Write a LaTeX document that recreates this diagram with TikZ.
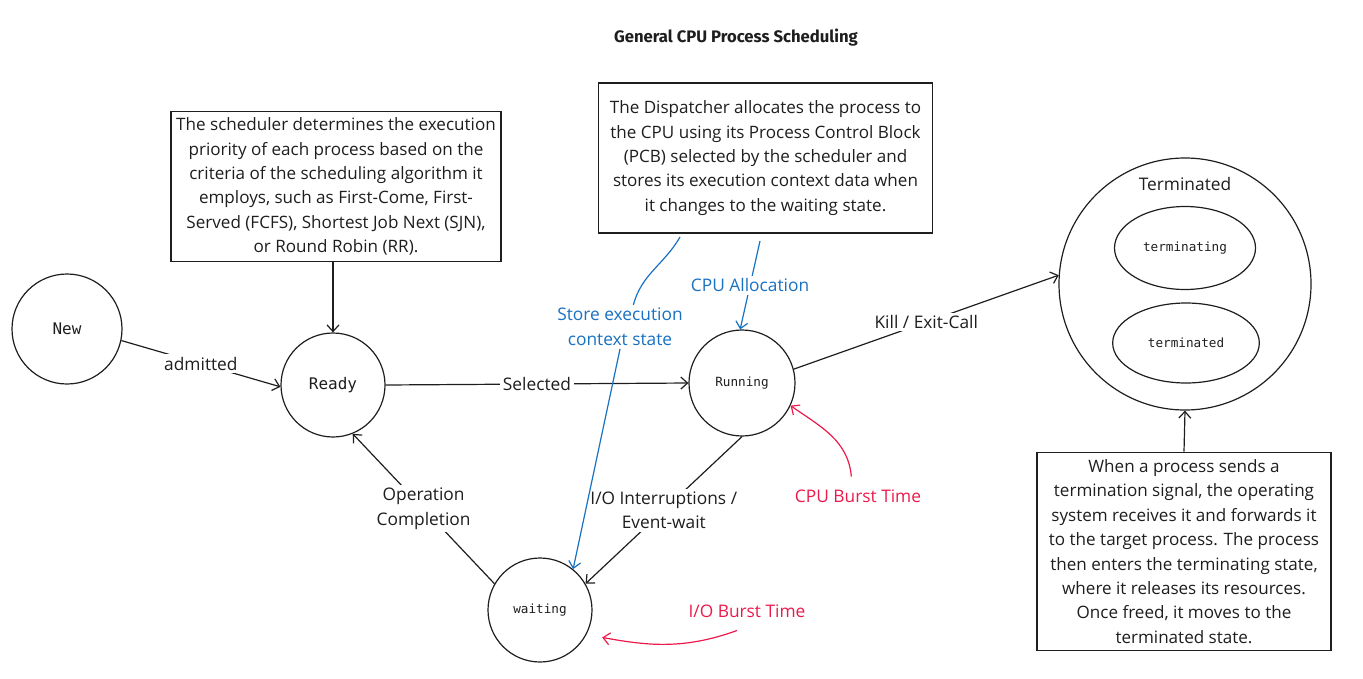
\documentclass[tikz,border=0pt]{standalone}
\usepackage{fontspec}
\setmainfont{Open Sans}
\setmonofont{DejaVu Sans Mono}
\newfontfamily\titlefont{Fira Sans}
\usetikzlibrary{arrows.meta,shapes.geometric}
\definecolor{ink}{HTML}{1E1E1E}
\definecolor{cpublue}{HTML}{1971C2}
\definecolor{burstred}{HTML}{EC1A4B}
\begin{document}
\begin{tikzpicture}[>={Straight Barb[length=5pt,width=9pt]},x=0.75pt,y=-0.75pt,line width=0.9pt,color=ink,
	state/.style={draw,circle,inner sep=0pt,minimum size=#1,font=\ttfamily\fontsize{9.5}{11}\selectfont},
	bigstate/.style={state=#1,font=\ttfamily\fontsize{12}{14}\selectfont},
	sub/.style={draw,ellipse,inner sep=0pt,font=\ttfamily\fontsize{9.5}{11}\selectfont},
	note/.style={draw,rectangle,align=center,inner sep=2pt,font=\fontsize{12.8}{18.3}\selectfont},
	lbl/.style={fill=white,inner sep=2pt,align=center,font=\fontsize{13}{18.5}\selectfont}]
	\useasboundingbox (0,0) rectangle (1363,678);
	\node[font=\titlefont\bfseries\fontsize{12.5}{14}\selectfont] (title) at (736,38) {General CPU Process Scheduling};
	\node[bigstate=82.5pt] (new) at (67,329) {New};
	\node[bigstate=78pt] (ready) at (333,385) {Ready};
	\node[state=79.5pt] (run) at (742,383) {Running};
	\node[state=78pt] (wait) at (540,610) {waiting};
	\node[state=189pt] (term) at (1185,284) {};
	\node[lbl] (termlbl) at (1185,184) {Terminated};
	\node[sub,minimum width=105.75pt,minimum height=62.25pt] (terming) at (1185,248) {terminating};
	\node[sub,minimum width=110pt,minimum height=60pt] (termed) at (1186,343) {terminated};
	\node[note,minimum width=247.5pt,minimum height=113pt] (sched) at (336,186.5) {The scheduler determines the execution\\priority of each process based on the\\criteria of the scheduling algorithm it\\employs, such as First-Come, First-\\Served (FCFS), Shortest Job Next (SJN),\\or Round Robin (RR).};
	\node[note,minimum width=250pt,minimum height=112.5pt] (disp) at (765.5,158) {The Dispatcher allocates the process to\\the CPU using its Process Control Block\\(PCB) selected by the scheduler and\\stores its execution context data when\\it changes to the waiting state.};
	\node[note,minimum width=220.5pt,minimum height=149pt] (kill) at (1184,551.5) {When a process sends a\\termination signal, the operating\\system receives it and forwards it\\to the target process. The process\\then enters the terminating state,\\where it releases its resources.\\Once freed, it moves to the\\terminated state.};
	\draw[->] (new.-12) -- node[lbl]{admitted} (ready.182);
	\draw[->] (ready.north |- sched.south) -- (ready.north);
	\draw[->] (ready.east) -- node[lbl]{Selected} (run.west);
	\draw[->] (run.15) -- node[lbl]{Kill / Exit-Call} (term.176);
	\draw[->] (kill.north) -- (term.south);
	\draw[->] (run.270) -- node[lbl]{I/O Interruptions /\\Event-wait} (wait.30);
	\draw[->] (wait.150) -- node[lbl]{Operation\\Completion} (ready.-68);
	\coordinate (alloc) at (760,241);
	\coordinate (ctx) at (680,237);
	\node[lbl,text=cpublue] (store) at (620,327) {Store execution\\context state};
	\draw[->,cpublue] (alloc) -- node[lbl,text=cpublue]{CPU Allocation} (run.92);
	\draw[cpublue] (ctx) to[out=240,in=75] ([xshift=10pt]store.north);
	\draw[->,cpublue] (store.south) -- (wait.51);
	\node[text=burstred,font=\fontsize{13}{15}\selectfont] (cpub) at (858,496) {CPU Burst Time};
	\node[text=burstred,font=\fontsize{13}{15}\selectfont] (iob) at (747,611) {I/O Burst Time};
	\draw[->,burstred] ([xshift=-5pt,yshift=6pt]cpub.north) to[out=95,in=-35] (run.-25);
	\draw[->,burstred,shorten >=12pt] ([xshift=-7.5pt,yshift=-6pt]iob.south) to[out=200,in=-10] (wait.-28);
\end{tikzpicture}
\end{document}
